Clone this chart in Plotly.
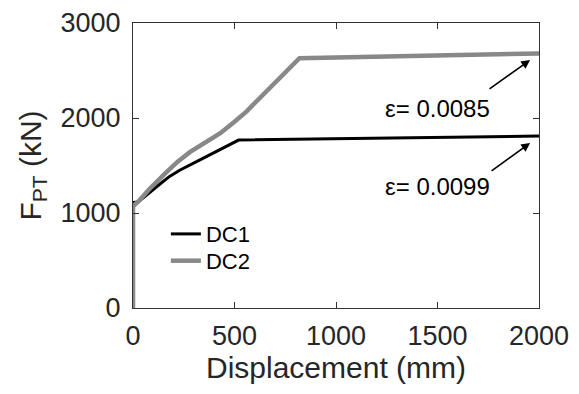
import plotly.graph_objects as go

# DC1 curve (displacement mm, force kN)
dc1_x = [0, 0, 25, 70, 130, 180, 230, 330, 430, 520, 2000]
dc1_y = [0, 1110, 1115, 1190, 1300, 1385, 1450, 1560, 1670, 1768, 1810]

# DC2 curve
dc2_x = [0, 0, 30, 80, 160, 220, 280, 350, 430, 500, 560, 615, 710, 820, 2000]
dc2_y = [0, 1070, 1130, 1250, 1420, 1540, 1640, 1730, 1840, 1960, 2070, 2190, 2400, 2630, 2680]

x_ticks = [0, 500, 1000, 1500, 2000]
y_ticks = [0, 1000, 2000, 3000]

# annotations: label, text position, arrow tail, arrow head
ann_labels = ["ε= 0.0085", "ε= 0.0099"]
ann_text_xy = [(1498, 2105), (1498, 1274)]
ann_tail_xy = [(1749, 2295), (1759, 1432)]
ann_head_xy = [(1956, 2610), (1956, 1737)]

FONT = "Liberation Sans, Arial, sans-serif"
TXT = "#262626"

fig = go.Figure()
fig.add_trace(go.Scatter(x=dc1_x, y=dc1_y, mode="lines", name="DC1", legend="legend",
                         line=dict(color="black", width=3)))
fig.add_trace(go.Scatter(x=dc2_x, y=dc2_y, mode="lines", name="DC2", legend="legend2",
                         line=dict(color="#888888", width=4.5)))

annotations = []
for lab, (tx, ty), (ax, ay), (hx, hy) in zip(ann_labels, ann_text_xy, ann_tail_xy, ann_head_xy):
    annotations.append(dict(x=tx, y=ty, xref="x", yref="y", text=lab, showarrow=False,
                            font=dict(family=FONT, size=24, color="black")))
    annotations.append(dict(x=hx, y=hy, xref="x", yref="y", ax=ax, ay=ay,
                            axref="x", ayref="y", text="", showarrow=True,
                            arrowhead=2, arrowsize=1.1, arrowwidth=1.6, arrowcolor="black"))

leg_common = dict(xanchor="left", yanchor="top", bgcolor="rgba(0,0,0,0)",
                  font=dict(size=22, color="black"), itemwidth=30)

# body has an 8px default margin in the page, so margins are offset by 8px
fig.update_layout(
    width=579, height=394,
    margin=dict(l=125, r=48, t=15, b=94, autoexpand=False),
    paper_bgcolor="white", plot_bgcolor="white",
    font=dict(family=FONT, color=TXT),
    showlegend=True,
    legend=dict(x=0.081, y=0.333, **leg_common),
    legend2=dict(x=0.081, y=0.239, **leg_common),
    annotations=annotations,
)
fig.update_xaxes(range=[0, 2000], tickvals=x_ticks, ticks="inside", ticklen=6,
                 tickcolor="#333333", showline=True, linecolor="#333333", linewidth=1,
                 mirror="allticks", showgrid=False, zeroline=False, automargin=False,
                 tickfont=dict(size=27, color=TXT), ticklabelstandoff=4,
                 title=dict(text="Displacement (mm)", font=dict(size=30, color=TXT), standoff=0))
fig.update_yaxes(range=[0, 3000], tickvals=y_ticks, ticks="inside", ticklen=6,
                 tickcolor="#333333", showline=True, linecolor="#333333", linewidth=1,
                 mirror="allticks", showgrid=False, zeroline=False, automargin=False,
                 tickfont=dict(size=27, color=TXT), ticklabelstandoff=6,
                 title=dict(text="F<sub>PT</sub> (kN)", font=dict(size=30, color=TXT), standoff=10))

fig.write_html("out.html")
